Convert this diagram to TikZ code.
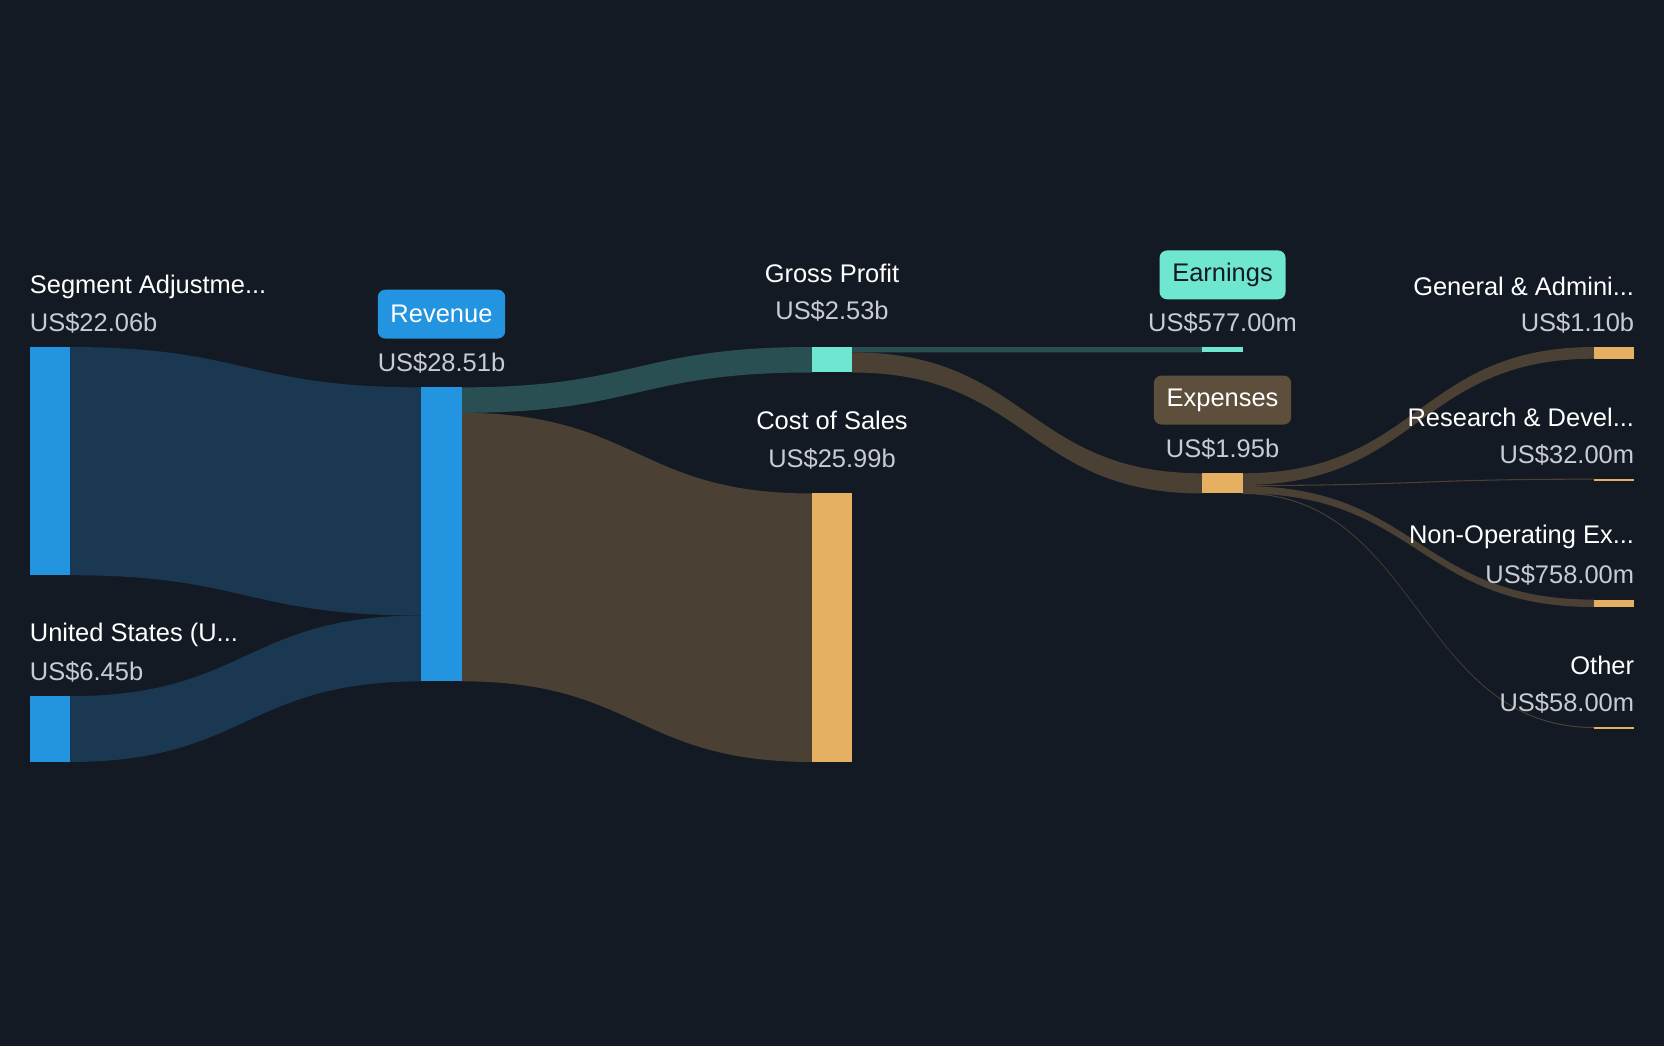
\documentclass[tikz,border=0pt]{standalone}
\usepackage{fontspec}
\setmainfont{Liberation Sans}
\begin{document}
\definecolor{bg}{HTML}{141A24}
\definecolor{blu}{HTML}{2394DF}
\definecolor{blf}{HTML}{1A3852}
\definecolor{tea}{HTML}{6EE6D0}
\definecolor{tef}{HTML}{2A4F52}
\definecolor{ora}{HTML}{E5B062}
\definecolor{brf}{HTML}{4A4034}
\definecolor{brb}{HTML}{5E4E3C}
\definecolor{gry}{HTML}{C8CCD2}
\begin{tikzpicture}[x=1pt,y=-1pt,
  lab/.style={text=white,font=\fontsize{24}{28}\selectfont,inner sep=0pt},
  val/.style={text=gry,font=\fontsize{24}{28}\selectfont,inner sep=0pt},
  badge/.style={rounded corners=7pt,minimum height=46pt,inner xsep=12pt,font=\fontsize{24}{28}\selectfont}]
\fill[bg] (0,0) rectangle (1568,986);
\useasboundingbox (0,0) rectangle (1568,986);
\newcommand\flow[7]{\fill[#7] (#1,#2) .. controls ({(#1+#4)/2},#2) and ({(#1+#4)/2},#5) .. (#4,#5) -- (#4,#6) .. controls ({(#1+#4)/2},#6) and ({(#1+#4)/2},#3) .. (#1,#3) -- cycle;}
\flow{66}{327}{542}{397}{365}{580}{blf}
\flow{66}{656}{718}{397}{580}{642}{blf}
\flow{435}{365}{389}{765}{327}{351}{tef}
\flow{435}{389}{642}{765}{465}{718}{brf}
\flow{803}{327}{332}{1133}{327}{332}{tef}
\flow{803}{332}{351}{1133}{446}{465}{brf}
\flow{1171}{446}{457}{1502}{327}{338}{brf}
\flow{1171}{457}{458}{1502}{451}{452}{brf}
\flow{1171}{458}{465}{1502}{565}{572}{brf}
\flow{1171}{464.5}{465.5}{1502}{685}{686}{brf}
\fill[blu] (28,327) rectangle (66,542);
\fill[blu] (28,656) rectangle (66,718);
\fill[blu] (397,365) rectangle (435,642);
\fill[tea] (765,327) rectangle (803,351);
\fill[ora] (765,465) rectangle (803,718);
\fill[tea] (1133,327) rectangle (1171,332);
\fill[ora] (1133,446) rectangle (1171,465);
\fill[ora] (1502,327) rectangle (1540,338);
\fill[ora] (1502,451) rectangle (1540,453);
\fill[ora] (1502,565) rectangle (1540,572);
\fill[ora] (1502,685) rectangle (1540,687);
\node[lab,anchor=west] (l1) at (28,270) {Segment Adjustme...};
\node[val,anchor=west] (v1) at (28,304) {US\$22.06b};
\node[lab,anchor=west] (l2) at (28,598) {United States (U...};
\node[val,anchor=west] (v2) at (28,633) {US\$6.45b};
\node[badge,fill=blu,text=white] (b1) at (416,296) {Revenue};
\node[val] (v3) at (416,342) {US\$28.51b};
\node[lab] (l4) at (784,258) {Gross Profit};
\node[val] (v4) at (784,293) {US\$2.53b};
\node[lab] (l5) at (784,396) {Cost of Sales};
\node[val] (v5) at (784,432) {US\$25.99b};
\node[badge,fill=tea,text=bg] (b2) at (1152,259) {Earnings};
\node[val] (v6) at (1152,304) {US\$577.00m};
\node[badge,fill=brb,text=white] (b3) at (1152,377) {Expenses};
\node[val] (v7) at (1152,423) {US\$1.95b};
\node[lab,anchor=east] (l8) at (1540,270) {General \& Admini...};
\node[val,anchor=east] (v8) at (1540,304) {US\$1.10b};
\node[lab,anchor=east] (l9) at (1540,393) {Research \& Devel...};
\node[val,anchor=east] (v9) at (1540,429) {US\$32.00m};
\node[lab,anchor=east] (l10) at (1540,506) {Non-Operating Ex...};
\node[val,anchor=east] (v10) at (1540,542) {US\$758.00m};
\node[lab,anchor=east] (l11) at (1540,627) {Other};
\node[val,anchor=east] (v11) at (1540,662) {US\$58.00m};
\end{tikzpicture}
\end{document}
